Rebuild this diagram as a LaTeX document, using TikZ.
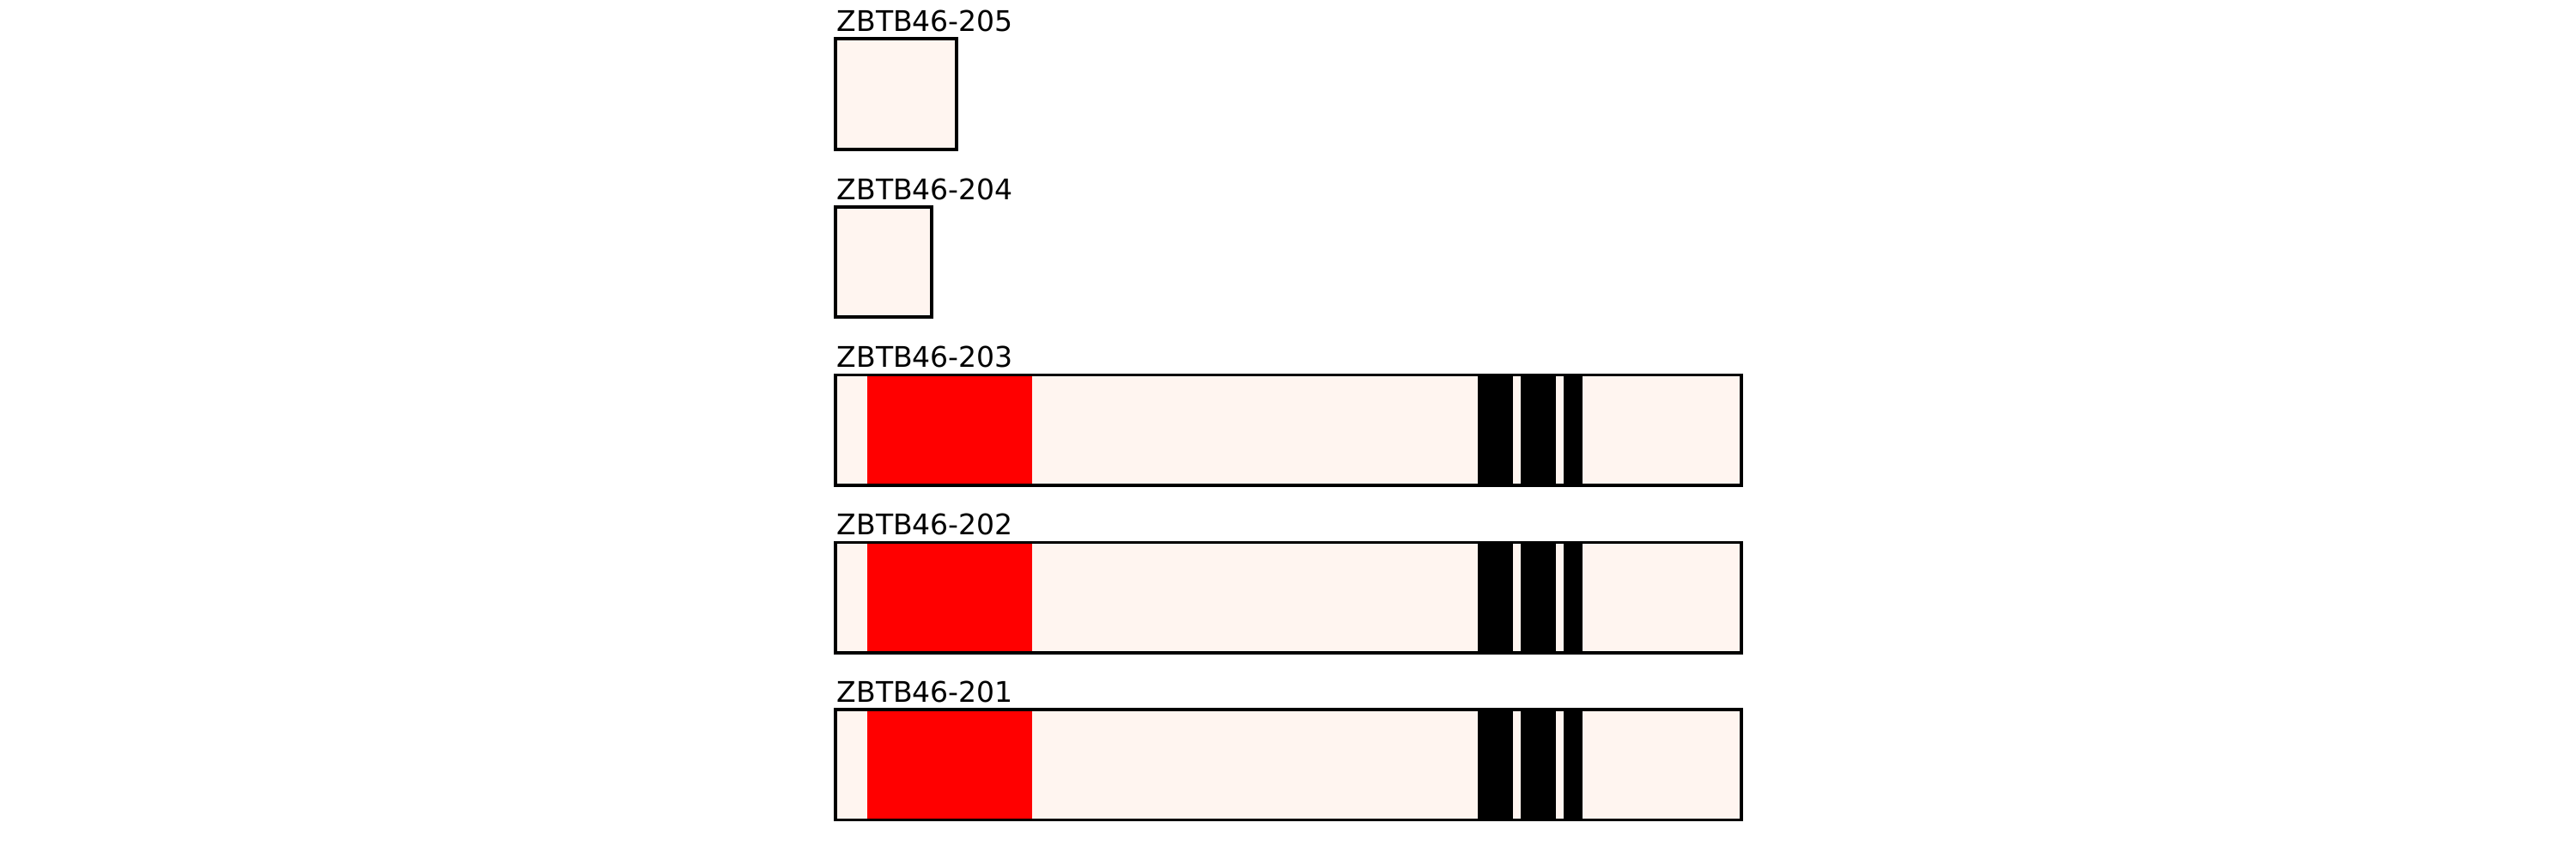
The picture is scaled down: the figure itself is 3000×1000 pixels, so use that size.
\documentclass[tikz,border=0pt]{standalone}
\usepackage{fontspec}
\setmainfont{DejaVu Sans}
\definecolor{exonfill}{HTML}{FFF5F0}
\definecolor{domred}{HTML}{FF0000}
\begin{document}
\begin{tikzpicture}[x=0.01cm,y=-0.01cm,
  txbox/.style={draw=black,line width=1pt,fill=exonfill},
  outl/.style={draw=black,line width=1pt},
  redseg/.style={fill=domred},
  blkseg/.style={fill=black},
  lbl/.style={anchor=base west,inner sep=0pt,font=\fontsize{9.4}{11}\selectfont}]
\useasboundingbox (0,0) rectangle (3000,1000);
% 205
\node[lbl] (l205) at (974,36) {ZBTB46-205};
\draw[txbox] (973,45) rectangle (1114,174) coordinate (b205);
% 204
\node[lbl] (l204) at (974,232) {ZBTB46-204};
\draw[txbox] (973,241) rectangle (1085,369) coordinate (b204);
% full-length rows
\foreach \t/\n in {436.5/203,631.5/202,826/201}{
  \node[lbl] (l\n) at (974,\t-9) {ZBTB46-\n};
  \fill[exonfill] (973,\t) rectangle (2028,\t+128.5);
  \fill[redseg] (1010,\t) rectangle (1201.5,\t+128.5);
  \fill[blkseg] (1720.5,\t) rectangle (1761.5,\t+128.5);
  \fill[blkseg] (1770.5,\t) rectangle (1811.5,\t+128.5);
  \fill[blkseg] (1820.5,\t) rectangle (1842.5,\t+128.5);
  \draw[outl] (973,\t) rectangle (2028,\t+128.5) coordinate (b\n);
}
\end{tikzpicture}
\end{document}
